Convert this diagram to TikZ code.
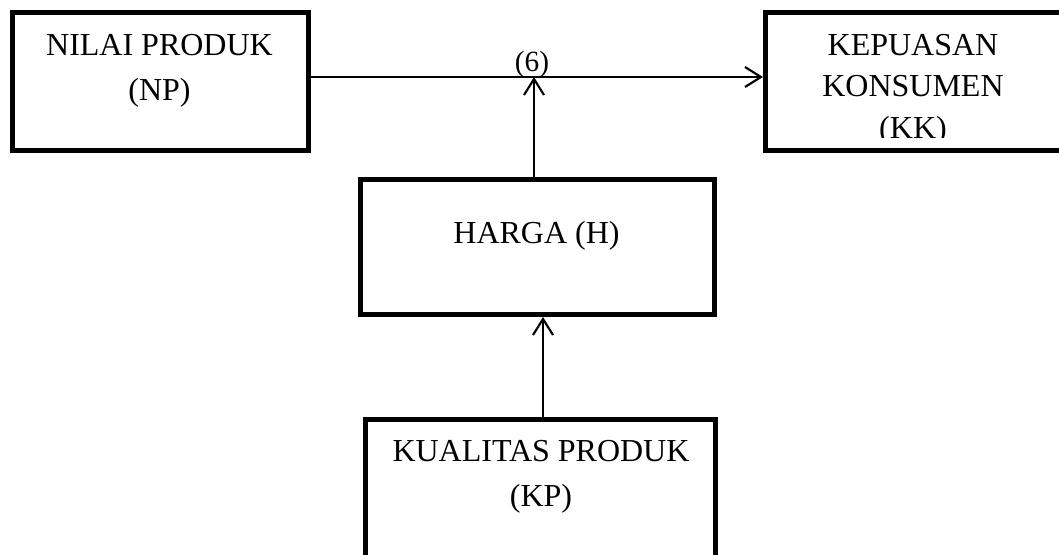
\documentclass[tikz,border=0pt]{standalone}
\usepackage{fontspec}
\setmainfont{Liberation Serif}
\usetikzlibrary{arrows.meta}

\tikzset{
	box/.style={draw, line width=3.75pt, inner sep=0pt},
	lbl/.style={align=center, inner sep=0pt, anchor=base},
	arr/.style={-{Straight Barb[length=12pt,width=15pt]}, line width=1.6pt}
}

\begin{document}
\begin{tikzpicture}[x=0.75pt,y=-0.75pt]
	\clip (0,0) rectangle (1059,554);
	
	\node[box, minimum width=222pt, minimum height=103.5pt] (np) at (160.5,81.5) {};
	\node[box, minimum width=235.9pt, minimum height=103.5pt] (kk) at (922.75,81.5) {};
	\node[box, minimum width=265.5pt, minimum height=101.25pt] (h) at (537.5,247) {};
	\node[box, minimum width=262.5pt, minimum height=120.4pt] (kp) at (540.5,499.75) {};
	
	% base = baseline of the last line
	\node[lbl, font=\fontsize{24}{33.75}\selectfont] (npt) at (159.5,100) {NILAI PRODUK\\(NP)};
	\begin{scope}
		\clip (kk.north west) rectangle (1059,137);
		\node[lbl, font=\fontsize{24}{31.1}\selectfont] (kkt) at (913,138) {KEPUASAN\\KONSUMEN\\(KK)};
	\end{scope}
	\node[lbl, font=\fontsize{24}{30}\selectfont] (ht) at (536.5,243.3) {HARGA (H)};
	\node[lbl, font=\fontsize{24}{33.75}\selectfont] (kpt) at (541,506.7) {KUALITAS PRODUK\\(KP)};
	
	\coordinate (jn) at (534,77);
	\coordinate (kpin) at (543,0);
	\draw[arr] (np.east |- jn) -- (kk.west |- jn);
	\draw[arr] (h.north -| jn) -- (jn);
	\draw[arr] (kp.north -| kpin) -- (h.south -| kpin);
	\node[font=\fontsize{22}{26}\selectfont] (six) at (532,64) {(6)};
	
	%\node at (530,20) {};
\end{tikzpicture}
\end{document}
